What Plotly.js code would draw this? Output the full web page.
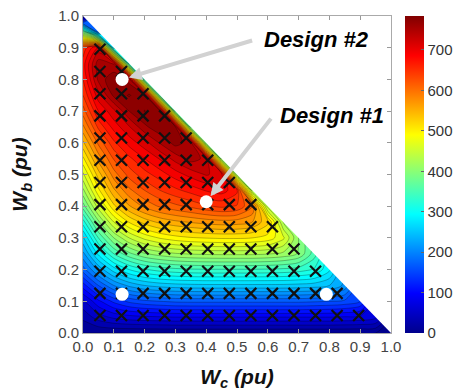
<!DOCTYPE html>
<html>
<head>
<meta charset="utf-8">
<script src="https://cdn.plot.ly/plotly-3.0.1.min.js"></script>
<style>html,body{margin:0;padding:0;background:#fff;}#chart{width:468px;height:391px;}</style>
</head>
<body>
<div id="chart"></div>
<script>
// Grid coordinates (pu)
const wcGrid = [0,0.05,0.1,0.15,0.2,0.25,0.3,0.35,0.4,0.45,0.5,0.55,0.6,0.65,0.7,0.75,0.8,0.85,0.9,0.95,1];
const wbGrid = [0,0.05,0.1,0.15,0.2,0.25,0.3,0.35,0.4,0.45,0.5,0.55,0.6,0.65,0.7,0.75,0.8,0.85,0.9,0.95,1];
// Estimated values, one row per Wb value (values beyond Wc+Wb=1 are hidden)
const z00 = [0,0,0,0,0,0,0,0,0,0,0,0,0,0,0,0,0,0,0,0,0];
const z01 = [25,50,65,72,76,78,80,80,80,80,80,80,80,80,80,80,80,78,75,65,0];
const z02 = [55,95,125,145,155,160,164,165,165,165,165,165,165,165,165,163,160,155,140,65,0];
const z03 = [110,160,200,225,240,248,252,254,255,255,255,255,255,255,253,250,240,215,140,65,0];
const z04 = [170,225,270,300,318,328,334,337,338,338,338,338,337,335,330,318,285,215,140,65,0];
const z05 = [215,285,340,375,398,410,418,422,424,425,425,425,422,415,398,350,285,215,140,65,0];
const z06 = [255,340,400,440,466,482,492,498,501,503,503,500,492,465,400,350,285,215,140,65,0];
const z07 = [310,395,460,502,528,545,555,562,568,572,570,560,525,420,400,350,285,215,140,65,0];
const z08 = [370,450,515,558,585,603,615,625,637,645,638,600,430,420,400,350,285,215,140,65,0];
const z09 = [415,495,556,595,620,640,655,668,682,690,665,420,430,420,400,350,285,215,140,65,0];
const z10 = [455,530,590,628,652,670,690,708,722,712,410,420,430,420,400,350,285,215,140,65,0];
const z11 = [495,568,622,655,680,702,728,748,735,400,410,420,430,420,400,350,285,215,140,65,0];
const z12 = [535,605,655,688,712,742,768,750,385,400,410,420,430,420,400,350,285,215,140,65,0];
const z13 = [575,645,688,718,755,776,760,370,385,400,410,420,430,420,400,350,285,215,140,65,0];
const z14 = [610,680,715,760,781,762,360,370,385,400,410,420,430,420,400,350,285,215,140,65,0];
const z15 = [640,712,765,782,762,350,360,370,385,400,410,420,430,420,400,350,285,215,140,65,0];
const z16 = [660,745,778,752,340,350,360,370,385,400,410,420,430,420,400,350,285,215,140,65,0];
const z17 = [670,752,738,320,340,350,360,370,385,400,410,420,430,420,400,350,285,215,140,65,0];
const z18 = [645,705,270,320,340,350,360,370,385,400,410,420,430,420,400,350,285,215,140,65,0];
const z19 = [380,180,270,320,340,350,360,370,385,400,410,420,430,420,400,350,285,215,140,65,0];
const z20 = [0,180,270,320,340,350,360,370,385,400,410,420,430,420,400,350,285,215,140,65,0];
const zRows = [z00,z01,z02,z03,z04,z05,z06,z07,z08,z09,z10,z11,z12,z13,z14,z15,z16,z17,z18,z19,z20];

// Sample (X) grid
const sampleWc = [0.055,0.125,0.195,0.265,0.335,0.405,0.475,0.545,0.615,0.685,0.755,0.825,0.895];
const sampleWb = [0.055,0.125,0.195,0.265,0.335,0.405,0.475,0.545,0.615,0.685,0.755,0.825,0.895];
const sampleMaxSum = 0.96;

// Highlighted designs (white dots)
const designWc = [0.127,0.40,0.127,0.79];
const designWb = [0.80,0.414,0.122,0.122];
const designLabels = ['Design #2','Design #1'];

// Colour bar
const cbMin = 0, cbMax = 784;
const cbTicks = [0,100,200,300,400,500,600,700];

const jet = [[0,'rgb(0,0,140)'],[0.125,'rgb(0,0,255)'],[0.375,'rgb(0,255,255)'],[0.625,'rgb(255,255,0)'],[0.875,'rgb(255,0,0)'],[1,'rgb(128,0,0)']];

const sx = [], sy = [];
sampleWb.forEach(function(yv){ sampleWc.forEach(function(xv){ if(xv + yv <= sampleMaxSum){ sx.push(xv); sy.push(yv); } }); });

const xr = [0,1], yr = [0,1];
const FONT = 'Liberation Sans, Arial, sans-serif';

const traces = [
  {type:'contour', x:wcGrid, y:wbGrid, z:zRows, colorscale:jet, zmin:cbMin, zmax:cbMax, zauto:false,
   autocontour:false, contours:{start:0, end:780, size:20, coloring:'fill'},
   line:{color:'rgba(0,0,0,0.55)', width:0.5, smoothing:0.8}, showscale:false, hoverinfo:'skip'},
  {type:'scatter', mode:'lines', x:[xr[0], xr[1], xr[1], xr[0]], y:[yr[1], yr[0], yr[1], yr[1]],
   fill:'toself', fillcolor:'#ffffff', line:{width:0, color:'#ffffff'}, hoverinfo:'skip', showlegend:false},
  {type:'scatter', mode:'markers', x:sx, y:sy,
   marker:{symbol:'x-thin', size:11, line:{width:2.2, color:'#111'}}, showlegend:false, hoverinfo:'skip'},
  {type:'scatter', mode:'markers', x:designWc, y:designWb,
   marker:{symbol:'circle', size:13, color:'#ffffff', line:{width:0}}, showlegend:false, hoverinfo:'skip'},
  {type:'scatter', mode:'markers', x:[null], y:[null], hoverinfo:'skip', showlegend:false,
   marker:{color:[cbMin], cmin:cbMin, cmax:cbMax, colorscale:jet, showscale:true, opacity:0,
     colorbar:{thickness:19, thicknessmode:'pixels', len:1, lenmode:'fraction', x:1.044, xanchor:'left',
       y:0.5, yanchor:'middle', tickvals:cbTicks, ticktext:cbTicks.map(String), ticks:'inside', ticklen:3,
       tickcolor:'#666', outlinewidth:0, tickfont:{family:FONT, size:15, color:'#333'}, xpad:0, ypad:0}}}
];

const axisCommon = {range:[0,1], dtick:0.1, tick0:0, tickformat:'.1f', ticks:'inside', ticklen:4,
  tickcolor:'#999', showline:true, linecolor:'#aaa', linewidth:1, mirror:'ticks', showgrid:false,
  zeroline:false, tickfont:{family:FONT, size:15, color:'#444'}};

const layout = {
  width:468, height:391, paper_bgcolor:'#fff', plot_bgcolor:'#fff',
  margin:{l:83, r:69, t:16, b:58},
  font:{family:FONT},
  xaxis:Object.assign({}, axisCommon, {title:{text:'<b><i>W<sub>c</sub> (pu)</i></b>', font:{family:FONT, size:21, color:'#111'}, standoff:20}}),
  yaxis:Object.assign({}, axisCommon, {title:{text:'<b><i>W<sub>b</sub> (pu)</i></b>', font:{family:FONT, size:21, color:'#111'}, standoff:24}}),
  annotations:[
    {x:designWc[0], y:designWb[0], xref:'x', yref:'y', axref:'x', ayref:'y', ax:0.554, ay:0.924, text:'',
     showarrow:true, arrowhead:2, arrowsize:0.65, arrowwidth:4, arrowcolor:'#d2d2d2', standoff:7},
    {x:designWc[1], y:designWb[1], xref:'x', yref:'y', axref:'x', ayref:'y', ax:0.614, ay:0.681, text:'',
     showarrow:true, arrowhead:2, arrowsize:0.65, arrowwidth:4, arrowcolor:'#d2d2d2', standoff:7},
    {x:0.58, y:0.925, xref:'x', yref:'y', xanchor:'left', yanchor:'middle', showarrow:false,
     text:'<b><i>'+designLabels[0]+'</i></b>', font:{family:FONT, size:22, color:'#000'}},
    {x:0.632, y:0.685, xref:'x', yref:'y', xanchor:'left', yanchor:'middle', showarrow:false,
     text:'<b><i>'+designLabels[1]+'</i></b>', font:{family:FONT, size:22, color:'#000'}}
  ],
  showlegend:false
};

Plotly.newPlot('chart', traces, layout, {staticPlot:true, displayModeBar:false});
</script>
</body>
</html>
